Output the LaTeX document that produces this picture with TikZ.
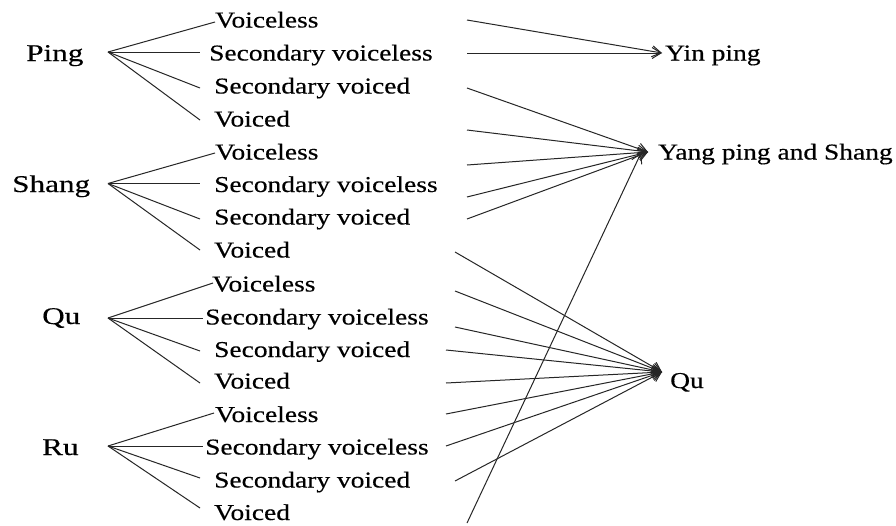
\documentclass[tikz,border=0pt]{standalone}
\usepackage{fontspec}
\setmainfont{Liberation Serif}
\newfontfamily\brfont[FakeStretch=1.21,FakeBold=0.35]{Liberation Serif}
\newfontfamily\grfont[FakeStretch=1.3,FakeBold=0.35]{Liberation Serif}
\usetikzlibrary{arrows.meta}
\begin{document}
\begin{tikzpicture}[x=1pt,y=-1pt,
  br/.style={font=\brfont\fontsize{22.7}{24}\selectfont, inner sep=0pt, anchor=base west, text=black},
  grp/.style={font=\grfont\fontsize{24}{26}\selectfont, inner sep=0pt, anchor=base west, text=black},
  tgt/.style={font=\brfont\fontsize{22.7}{24}\selectfont, inner sep=0pt, anchor=base west, text=black},
  ln/.style={line width=1pt, draw=black!85},
  arr/.style={ln, -{Straight Barb[length=9pt,width=11pt]}}]
\useasboundingbox (0,0) rectangle (896,525);
\fill[white] (0,0) rectangle (896,525);

% ---- Ping group
\node[grp] (ping) at (26,61) {Ping};
\coordinate (pingO) at (108,52);
\node[br] (p1) at (215,27.5) {Voiceless};
\node[br] (p2) at (209,60.5) {Secondary voiceless};
\node[br] (p3) at (214,93.5) {Secondary voiced};
\node[br] (p4) at (214,126.5) {Voiced};
\coordinate (pe1) at (215,22);
\coordinate (pe2) at (200,52);
\coordinate (pe3) at (200,88);
\coordinate (pe4) at (200,120);
\foreach \e in {pe1,pe2,pe3,pe4} \draw[ln] (pingO) -- (\e);

% ---- Shang group
\node[grp] (shang) at (12,192) {Shang};
\coordinate (shangO) at (108,183.5);
\node[br] (s1) at (215,159.5) {Voiceless};
\node[br] (s2) at (214,192) {Secondary voiceless};
\node[br] (s3) at (214,224.5) {Secondary voiced};
\node[br] (s4) at (214,257.5) {Voiced};
\coordinate (se1) at (215,153);
\coordinate (se2) at (200,183.5);
\coordinate (se3) at (200,219);
\coordinate (se4) at (200,250);
\foreach \e in {se1,se2,se3,se4} \draw[ln] (shangO) -- (\e);

% ---- Qu group
\node[grp] (qul) at (42,324) {Qu};
\coordinate (quO) at (108,318);
\node[br] (q1) at (212,291.5) {Voiceless};
\node[br] (q2) at (205,324.5) {Secondary voiceless};
\node[br] (q3) at (214,357) {Secondary voiced};
\node[br] (q4) at (214,388.5) {Voiced};
\coordinate (qe1) at (213,283);
\coordinate (qe2) at (203,318);
\coordinate (qe3) at (200,351);
\coordinate (qe4) at (200,383);
\foreach \e in {qe1,qe2,qe3,qe4} \draw[ln] (quO) -- (\e);

% ---- Ru group
\node[grp] (rul) at (42,455) {Ru};
\coordinate (ruO) at (108,446);
\node[br] (r1) at (215,422) {Voiceless};
\node[br] (r2) at (205,454.5) {Secondary voiceless};
\node[br] (r3) at (214,487.5) {Secondary voiced};
\node[br] (r4) at (214,520) {Voiced};
\coordinate (re1) at (214,413);
\coordinate (re2) at (203,446);
\coordinate (re3) at (200,478);
\coordinate (re4) at (200,508);
\foreach \e in {re1,re2,re3,re4} \draw[ln] (ruO) -- (\e);

% ---- targets
\coordinate (tYin) at (662,53);
\node[tgt] (yin) at (665,60.5) {Yin ping};
\coordinate (tYang) at (648,152);
\coordinate (tYang2) at (641,153);
\node[tgt] (yang) at (658,159.5) {Yang ping and Shang};
\coordinate (tQu) at (662,372);
\node[tgt] (qut) at (670,388) {Qu};

% ---- sources
\coordinate (a1) at (467,20);
\coordinate (a2) at (467,53);
\coordinate (b1) at (467,88);
\coordinate (b2) at (467,130);
\coordinate (b3) at (467,165);
\coordinate (b4) at (467,197);
\coordinate (b5) at (467,219);
\coordinate (b6) at (467,523);
\coordinate (c1) at (455,252);
\coordinate (c2) at (455,291);
\coordinate (c3) at (455,327);
\coordinate (c4) at (446,350);
\coordinate (c5) at (446,383);
\coordinate (c6) at (446,414);
\coordinate (c7) at (446,446);
\coordinate (c8) at (455,481);

\foreach \s in {a1,a2} \draw[arr] (\s) -- (tYin);
\foreach \s in {b1,b2,b3,b4,b5} \draw[arr] (\s) -- (tYang);
\draw[arr] (b6) -- (tYang2);
\foreach \s in {c1,c2,c3,c4,c5,c6,c7,c8} \draw[arr] (\s) -- (tQu);
\end{tikzpicture}
\end{document}
